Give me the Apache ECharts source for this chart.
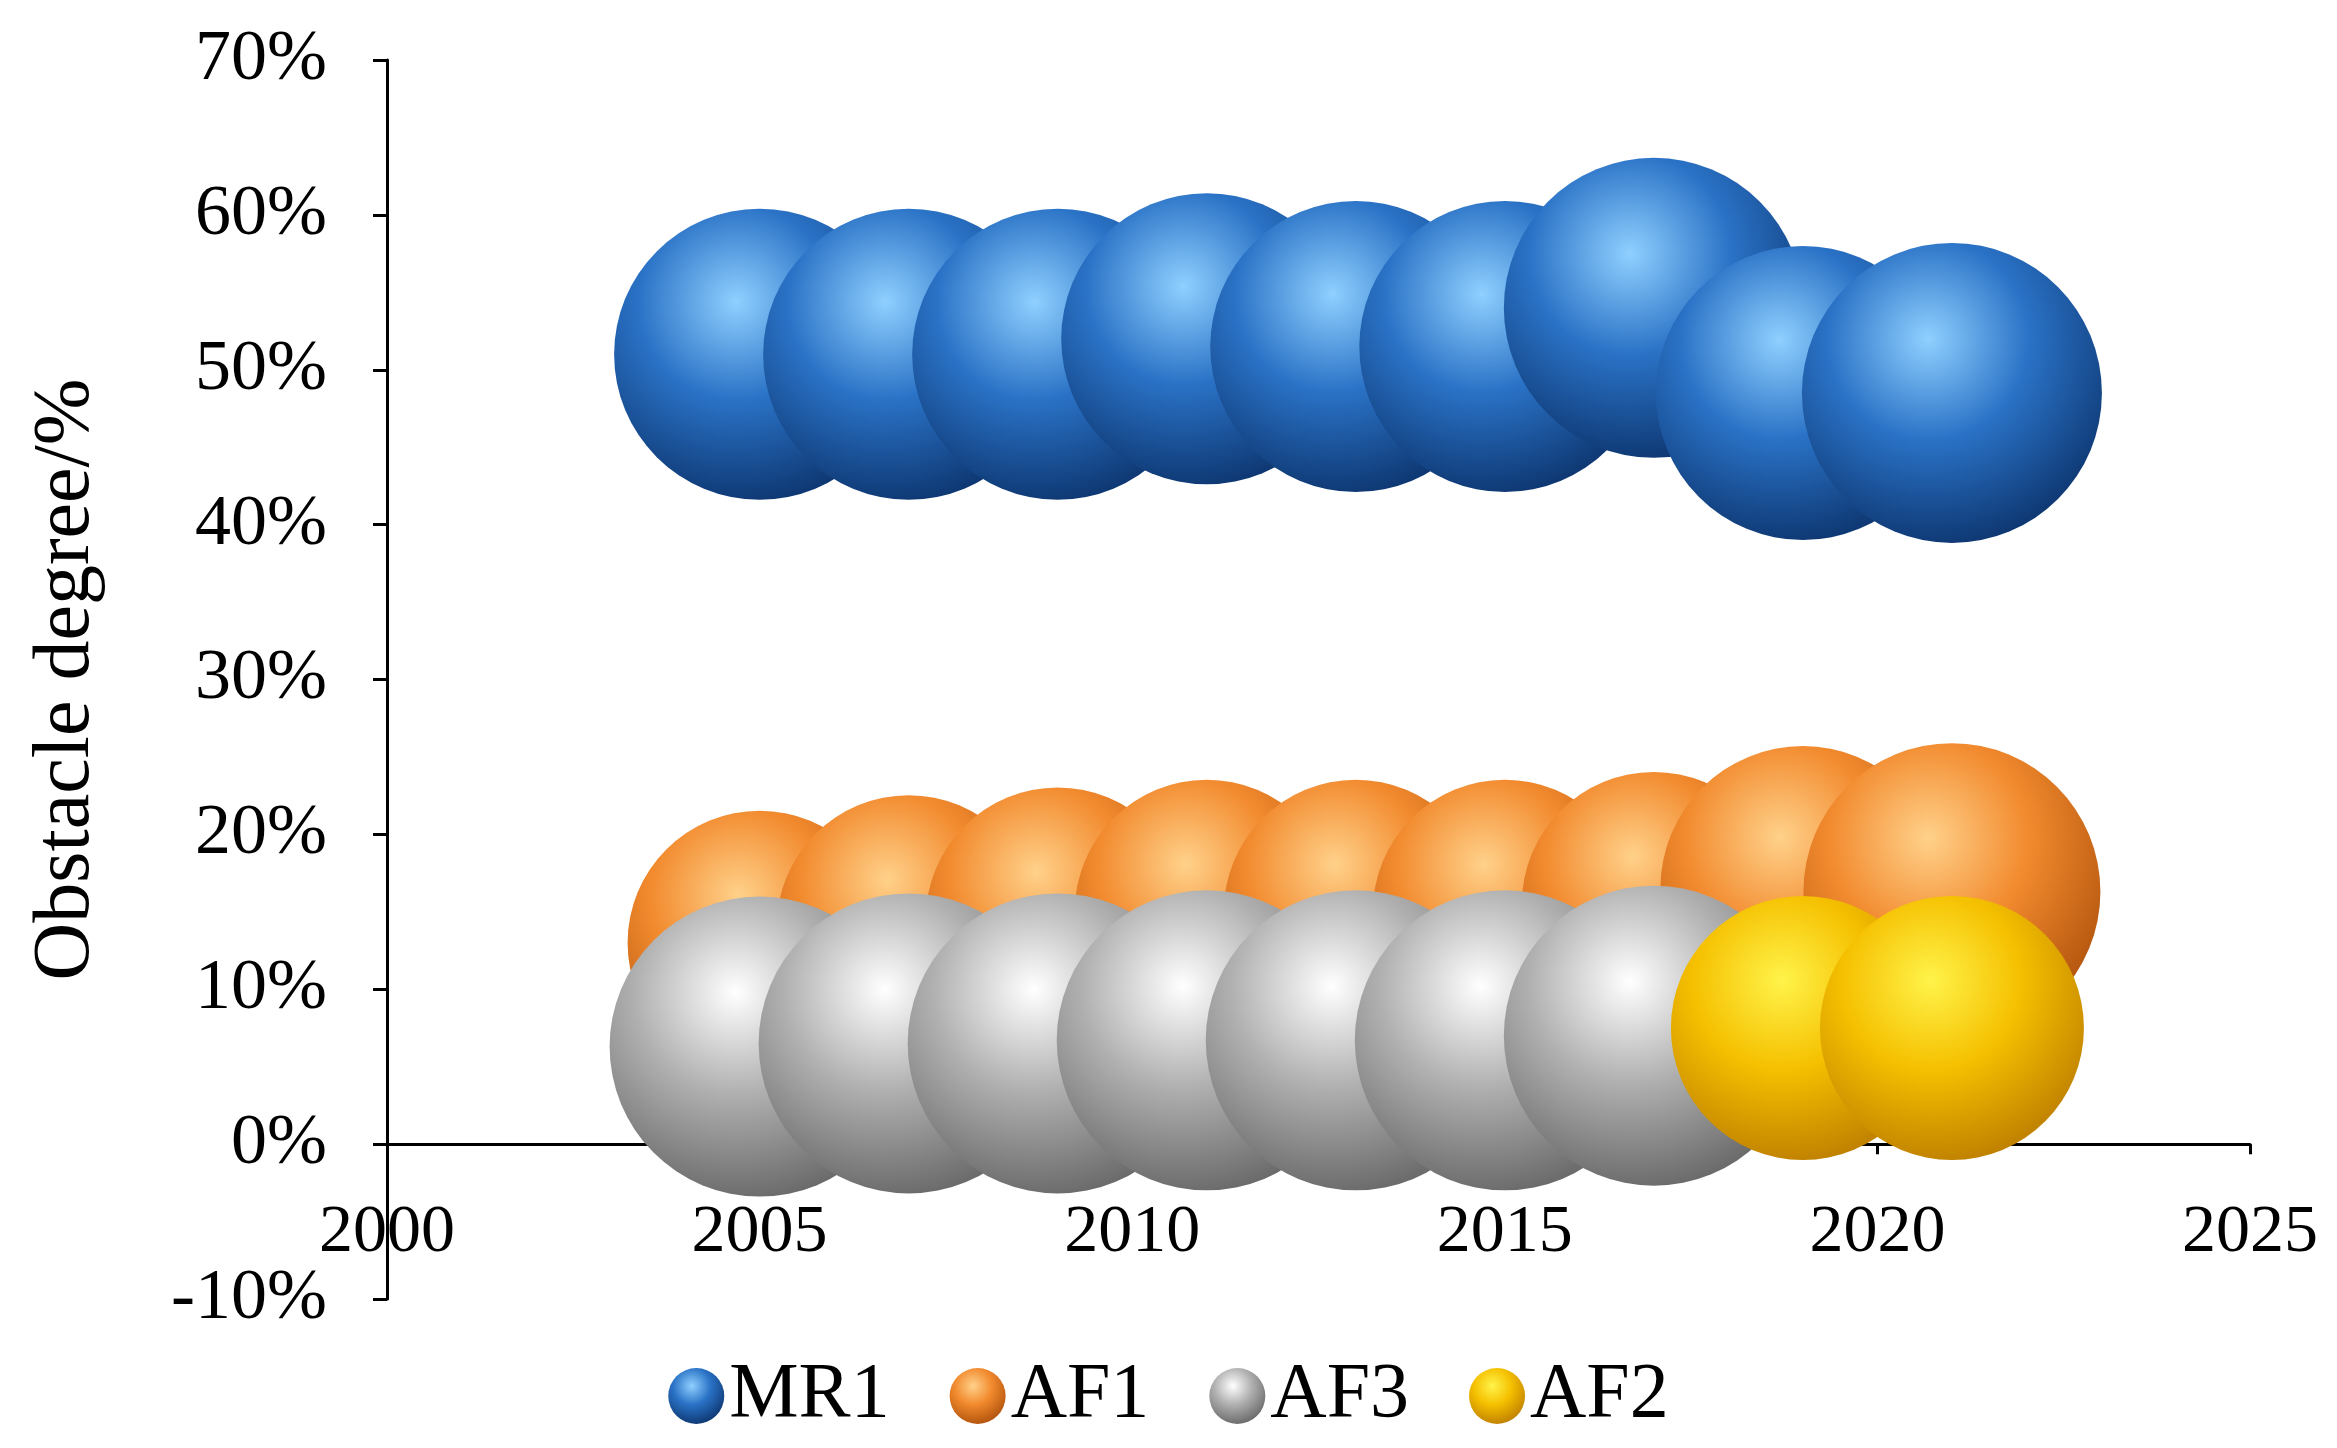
<!DOCTYPE html>
<html><head><meta charset="utf-8">
<script src="https://cdn.jsdelivr.net/npm/echarts@6/dist/echarts.min.js"></script>
<style>html,body{margin:0;padding:0;background:#fff}#c{width:2337px;height:1448px}</style>
</head><body><div id="c"></div>
<script>
const years = [2005, 2007, 2009, 2011, 2013, 2015, 2017, 2019, 2021];
const mr1 = [51.0, 51.0, 51.0, 52.0, 51.5, 51.5, 54.0, 48.5, 48.5];
const mr1Size = [97, 97, 97, 97, 97, 97, 100, 98, 100];
const af1 = [13.0, 14.0, 14.5, 15.0, 15.0, 15.0, 15.5, 16.5, 16.3];
const af1Size = [88, 88, 88, 88, 88, 88, 88, 95, 99];
const af3 = [6.3, 6.5, 6.5, 6.7, 6.7, 6.7, 7.0];
const af3Years = [2005, 2007, 2009, 2011, 2013, 2015, 2017];
const af3Size = [100, 100, 100, 100, 100, 100, 100];
const af2 = [7.5, 7.5];
const af2Years = [2019, 2021];
const af2Size = [88, 88];

function grad(light, base, dark) {
  return {type:'radial', x:0.42, y:0.32, r:0.75, colorStops:[
    {offset:0, color:light},{offset:0.45, color:base},{offset:1, color:dark}]};
}
const fontF = '"Liberation Serif","Times New Roman",serif';
function mk(name, xs, ys, sz, g) {
  return {name, type:'scatter', data: xs.map((x,i)=>[x, ys[i], sz[i]]),
    symbolSize: d => d[2]*3.0, itemStyle:{color:g, opacity:1}};
}
const chart = echarts.init(document.getElementById('c'));
chart.setOption({
  animation:false,
  grid:{left:387, right:87, top:60, bottom:149},
  legend:{bottom:8, left:'center', icon:'circle', itemWidth:56, itemHeight:56, itemGap:60,
    textStyle:{fontFamily:fontF, fontSize:78, color:'#000'},
    data:['MR1','AF1','AF3','AF2']},
  xAxis:{type:'value', min:2000, max:2025, interval:5,
    axisLine:{onZero:true, lineStyle:{color:'#000', width:3}},
    axisTick:{show:true, inside:false, length:10, lineStyle:{color:'#000', width:3}},
    splitLine:{show:false},
    axisLabel:{color:'#000', fontFamily:fontF, fontSize:68, margin:-100, formatter: v => String(v)}},
  yAxis:{type:'value', min:-10, max:70, interval:10,
    name:'Obstacle degree/%', nameLocation:'middle', nameGap:280, nameRotate:90,
    nameTextStyle:{fontFamily:fontF, fontSize:80, color:'#000'},
    axisLine:{show:true, lineStyle:{color:'#000', width:3}},
    axisTick:{show:true, length:14, lineStyle:{color:'#000', width:3}},
    splitLine:{show:false},
    axisLabel:{color:'#000', fontFamily:fontF, fontSize:72, margin:60, formatter:'{value}%'}},
  series:[
    mk('MR1', years, mr1, mr1Size, grad('#8fd0ff','#2a72c6','#0a2f66')),
    mk('AF1', years, af1, af1Size, grad('#ffd18a','#f28a2e','#a84c08')),
    mk('AF3', af3Years, af3, af3Size, grad('#ffffff','#b0b0b0','#606060')),
    mk('AF2', af2Years, af2, af2Size, grad('#fff34a','#f5c000','#b87800'))
  ]
});
</script></body></html>
